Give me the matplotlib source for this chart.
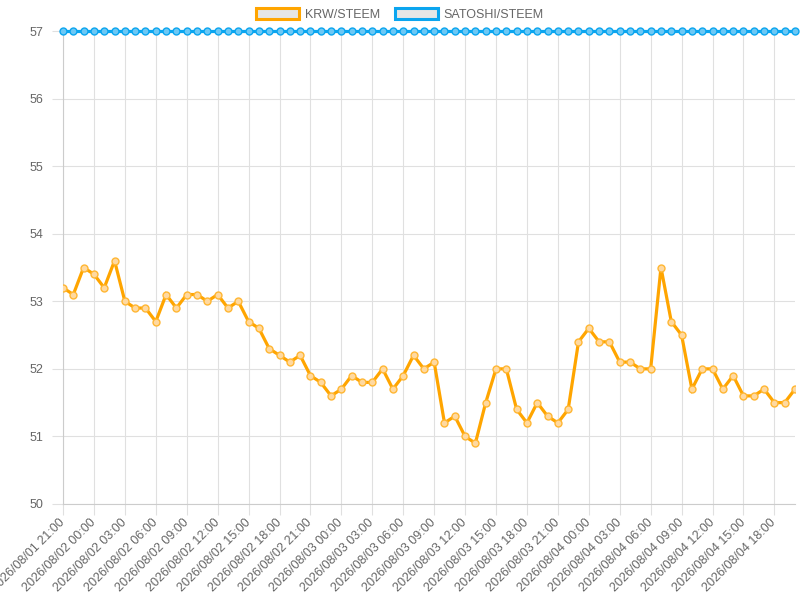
import matplotlib.pyplot as plt
from matplotlib.patches import Patch

plt.rcParams['font.family'] = ['Liberation Sans', 'DejaVu Sans']

# hourly samples, 2026/08/01 21:00 -> 2026/08/04 20:00
krw = [53.2, 53.1, 53.5, 53.4, 53.2, 53.6, 53.0, 52.9, 52.9, 52.7,
       53.1, 52.9, 53.1, 53.1, 53.0, 53.1, 52.9, 53.0, 52.7, 52.6,
       52.3, 52.2, 52.1, 52.2, 51.9, 51.8, 51.6, 51.7, 51.9, 51.8,
       51.8, 52.0, 51.7, 51.9, 52.2, 52.0, 52.1, 51.2, 51.3, 51.0,
       50.9, 51.5, 52.0, 52.0, 51.4, 51.2, 51.5, 51.3, 51.2, 51.4,
       52.4, 52.6, 52.4, 52.4, 52.1, 52.1, 52.0, 52.0, 53.5, 52.7,
       52.5, 51.7, 52.0, 52.0, 51.7, 51.9, 51.6, 51.6, 51.7, 51.5,
       51.5, 51.7]
satoshi = [57] * len(krw)

tick_labels = ['2026/08/01 21:00', '2026/08/02 00:00', '2026/08/02 03:00',
               '2026/08/02 06:00', '2026/08/02 09:00', '2026/08/02 12:00',
               '2026/08/02 15:00', '2026/08/02 18:00', '2026/08/02 21:00',
               '2026/08/03 00:00', '2026/08/03 03:00', '2026/08/03 06:00',
               '2026/08/03 09:00', '2026/08/03 12:00', '2026/08/03 15:00',
               '2026/08/03 18:00', '2026/08/03 21:00', '2026/08/04 00:00',
               '2026/08/04 03:00', '2026/08/04 06:00', '2026/08/04 09:00',
               '2026/08/04 12:00', '2026/08/04 15:00', '2026/08/04 18:00']
y_ticks = [50, 51, 52, 53, 54, 55, 56, 57]

orange = '#FFA500'
blue = '#0BA5EF'
txt = '#666666'
grid = '#e0e0e0'

fig = plt.figure(figsize=(8, 6), dpi=100)
ax = fig.add_axes([0.07875, 0.16, 0.915, 0.7883])

x = list(range(len(krw)))
ax.plot(x, krw, color=orange, lw=2.3, solid_joinstyle='miter', zorder=3,
        marker='o', ms=5, mfc='#FFD9A0', mec='#FFB733', mew=1)
ax.plot(x, satoshi, color=blue, lw=2.3, zorder=4, clip_on=False,
        marker='o', ms=5, mfc='#6CC8F5', mec=blue, mew=1)

ax.set_xlim(0, len(krw) - 1)
ax.set_ylim(50, 57)
ax.set_yticks(y_ticks)
ax.set_yticklabels([str(v) for v in y_ticks])
ax.set_xticks(list(range(0, 3 * len(tick_labels), 3)))
ax.set_xticklabels(tick_labels, rotation=45, ha='right', va='center',
                   rotation_mode='anchor')

ax.grid(True, color=grid, lw=0.8)
ax.set_axisbelow(True)
for s in ['top', 'right']:
    ax.spines[s].set_visible(False)
for s in ['left', 'bottom']:
    ax.spines[s].set_color('#cccccc')
ax.tick_params(axis='both', colors=grid, labelcolor=txt, labelsize=9, length=8, width=0.8)
ax.tick_params(axis='y', pad=6)
ax.tick_params(axis='x', pad=4)

handles = [Patch(facecolor='#e6e6e6', edgecolor=orange, lw=2.2, label='KRW/STEEM'),
           Patch(facecolor='#e6e6e6', edgecolor=blue, lw=2.2, label='SATOSHI/STEEM')]
fig.legend(handles=handles, loc='upper center', bbox_to_anchor=(0.5, 1.005), ncol=2,
           frameon=False, fontsize=9, labelcolor=txt, handlelength=3.4,
           handleheight=0.9, handletextpad=0.5, columnspacing=1.2)

fig.savefig('out.png', dpi=100)
